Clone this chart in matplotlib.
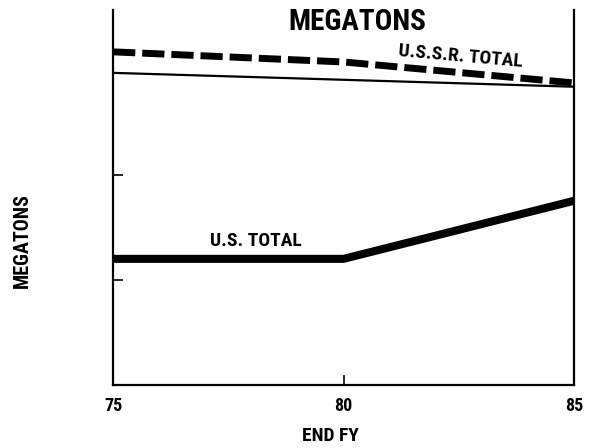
import matplotlib.pyplot as plt

# fiscal years (end FY)
years = [75, 80, 85]
ussr_total = [88.8, 86.1, 80.5]
ref_years = [75, 85]
ref_line = [83.2, 79.5]
us_years = [75, 80, 85]
us_total = [33.6, 33.6, 49.1]

font = 'Roboto Condensed'

fig = plt.figure(figsize=(5.92, 4.48), dpi=100)
ax = fig.add_axes([0.191, 0.141, 0.779, 0.837])

ax.plot(years, ussr_total, color='black', lw=5, dashes=(3.2, 1.0), solid_capstyle='butt')
ax.plot(ref_years, ref_line, color='black', lw=1.6)
ax.plot(us_years, us_total, color='black', lw=5.8, solid_capstyle='butt')

ax.set_xlim(75, 85)
ax.set_ylim(0, 100)
ax.spines['top'].set_visible(False)
for s in ['left', 'right', 'bottom']:
    ax.spines[s].set_linewidth(1.6)

ax.set_xticks([75, 80, 85])
ax.set_xticklabels(['75', '80', '85'], fontfamily=font, fontweight='bold', fontsize=13)
ax.set_yticks([28, 56])
ax.set_yticklabels([])
ax.tick_params(axis='both', direction='in', length=7, width=1.2)
ax.tick_params(axis='x', pad=9)

ax.text(0.529, 0.968, 'MEGATONS', transform=ax.transAxes, ha='center', va='center',
        fontfamily=font, fontweight='bold', fontsize=21)
ax.text(82.53, 87.7, 'U.S.S.R. TOTAL', ha='center', va='center', fontfamily=font,
        fontweight='bold', fontsize=14, rotation=-5)
ax.text(78.1, 38.4, 'U.S. TOTAL', ha='center', va='center', fontfamily=font,
        fontweight='bold', fontsize=14)

ax.text(0.471, -0.136, 'END FY', transform=ax.transAxes, ha='center', va='center',
        fontfamily=font, fontweight='bold', fontsize=14)
fig.text(0.037, 0.464, 'MEGATONS', rotation=90, ha='center', va='center',
         fontfamily=font, fontweight='bold', fontsize=14.5)

fig.savefig('out.png', dpi=100)
